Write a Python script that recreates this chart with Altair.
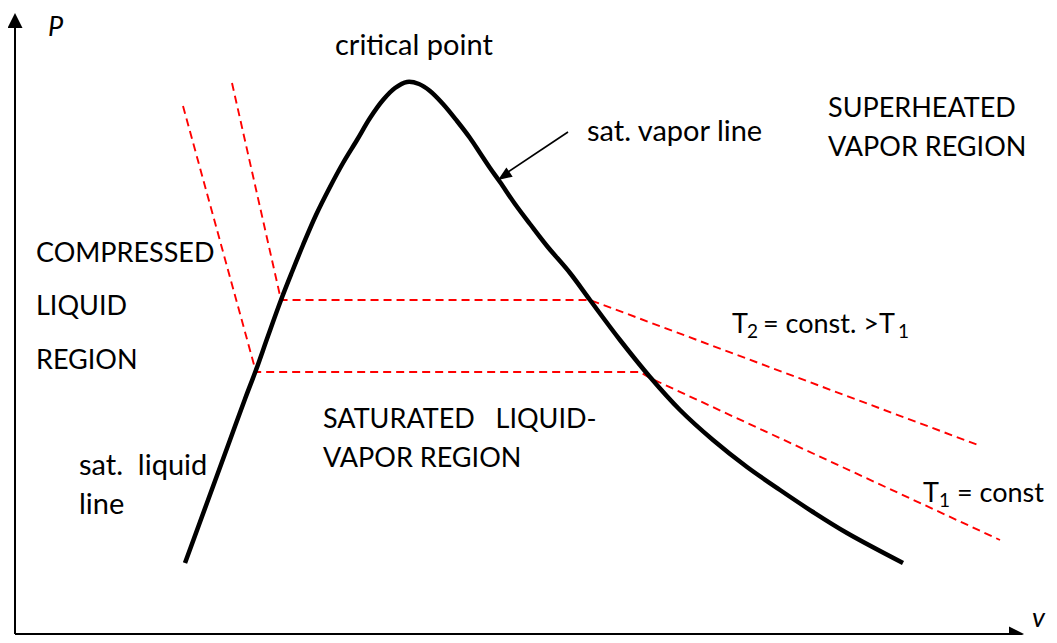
import altair as alt
import pandas as pd

FONT = "Lato"

# Saturation dome (v, P in diagram units; axes meet at 0,0)
sat_v = [170, 185, 200, 215, 230, 241, 253, 266, 277, 288, 301, 315, 328, 342, 355, 368, 380, 392,
         404, 415, 428, 442, 455, 465, 475, 485, 500, 515, 532, 555, 575, 605, 635, 665, 698, 732,
         765, 798, 832, 888]
sat_P = [71, 112, 153, 194, 235, 264, 298, 334, 362, 389, 419, 447, 471, 494, 516, 534, 546, 552,
         550, 543, 530, 513, 496, 481, 466, 452, 430, 410, 388, 361, 334, 294, 257, 224, 194, 167,
         144, 122, 101, 71]

# Isotherms
t2_v = [217, 266, 575, 963]
t2_P = [551, 334, 334, 189]
t1_v = [168, 241, 625, 635, 985]
t1_P = [528, 262, 262, 256, 94]

# Axes
yaxis_v = [0, 0]
yaxis_P = [0, 610]
xaxis_v = [0, 1000]
xaxis_P = [0, 0]

# Pointer arrow to saturated vapor line
ptr_v = [553, 487]
ptr_P = [502, 458]

# Labels (upper-case / mixed labels)
labels = ["SUPERHEATED", "VAPOR REGION", "COMPRESSED", "LIQUID", "REGION",
          "SATURATED\u00a0\u00a0\u00a0LIQUID-", "VAPOR REGION", "T", "= const. >T", "T", "= const"]
label_v = [813, 813, 21, 21, 21, 308, 308, 717, 748, 908, 942]
label_P = [517, 478, 372, 319, 265, 206, 167, 301, 301, 132, 132]

# Lower-case labels
lc_labels = ["critical point", "sat. vapor line", "sat.\u00a0\u00a0liquid", "line"]
lc_v = [320, 572, 64, 64]
lc_P = [579, 493, 159, 120]

subs = ["2", "1", "1"]
sub_v = [732, 883, 924]
sub_P = [296, 296, 127]

axis_labels = ["P", "v"]
axis_label_v = [33, 1017]
axis_label_P = [598, 7]

heads = ["y", "x", "ptr"]
head_v = [0, 1009, 483]
head_P = [621, 0, 454]
head_angle = [0, 90, 235.6]

xs = alt.Scale(domain=[-7, 1034], nice=False, zero=False)
ys = alt.Scale(domain=[-1, 626], nice=False, zero=False)


def line_df(vs, ps, name):
    return pd.DataFrame({"v": vs, "P": ps, "i": range(len(vs)), "s": name})


def enc(ch):
    return ch.encode(
        x=alt.X("v:Q", scale=xs, axis=None),
        y=alt.Y("P:Q", scale=ys, axis=None),
    )


sat = enc(alt.Chart(line_df(sat_v, sat_P, "sat")).mark_line(
    color="black", strokeWidth=4.5, interpolate="catmull-rom", strokeCap="butt")).encode(order="i:Q")

iso = enc(alt.Chart(pd.concat([line_df(t2_v, t2_P, "T2"), line_df(t1_v, t1_P, "T1")])).mark_line(
    color="#ff0000", strokeWidth=1.9, strokeDash=[8, 5])).encode(order="i:Q", detail="s:N")

axes_df = pd.concat([line_df(yaxis_v, yaxis_P, "y"), line_df(xaxis_v, xaxis_P, "x")])
axes = enc(alt.Chart(axes_df).mark_line(color="black", strokeWidth=2)).encode(order="i:Q", detail="s:N")

ptr = enc(alt.Chart(line_df(ptr_v, ptr_P, "ptr")).mark_line(color="black", strokeWidth=1.6)).encode(order="i:Q")

head_df = pd.DataFrame({"v": head_v, "P": head_P, "a": head_angle, "k": heads})
ax_heads = enc(alt.Chart(head_df[head_df.k != "ptr"]).mark_point(
    shape="M0,0L1,2L-1,2Z", size=225, filled=True, color="black", opacity=1, strokeWidth=0)).encode(
    angle=alt.Angle("a:Q", scale=None))
ptr_head = enc(alt.Chart(head_df[head_df.k == "ptr"]).mark_point(
    shape="M0,0L0.8,2L-0.8,2Z", size=196, filled=True, color="black", opacity=1, strokeWidth=0)).encode(
    angle=alt.Angle("a:Q", scale=None))

txt = enc(alt.Chart(pd.DataFrame({"v": label_v, "P": label_P, "t": labels})).mark_text(
    font=FONT, fontSize=27, align="left", baseline="alphabetic", color="black")).encode(text="t:N")

lc_txt = enc(alt.Chart(pd.DataFrame({"v": lc_v, "P": lc_P, "t": lc_labels})).mark_text(
    font=FONT, fontSize=29, align="left", baseline="alphabetic", color="black")).encode(text="t:N")

sub = enc(alt.Chart(pd.DataFrame({"v": sub_v, "P": sub_P, "t": subs})).mark_text(
    font=FONT, fontSize=19, align="left", baseline="alphabetic", color="black")).encode(text="t:N")

axl = enc(alt.Chart(pd.DataFrame({"v": axis_label_v, "P": axis_label_P, "t": axis_labels})).mark_text(
    font=FONT, fontSize=27, fontStyle="italic", align="left", baseline="alphabetic", color="black")).encode(text="t:N")

chart = alt.layer(axes, iso, sat, ptr, ax_heads, ptr_head, txt, lc_txt, sub, axl).properties(
    width=1041, height=627, padding=0, autosize=alt.AutoSizeParams(type="none"),
    background="white",
).configure_view(stroke=None)

chart.save("out.html", embed_options={"renderer": "svg", "actions": False})
